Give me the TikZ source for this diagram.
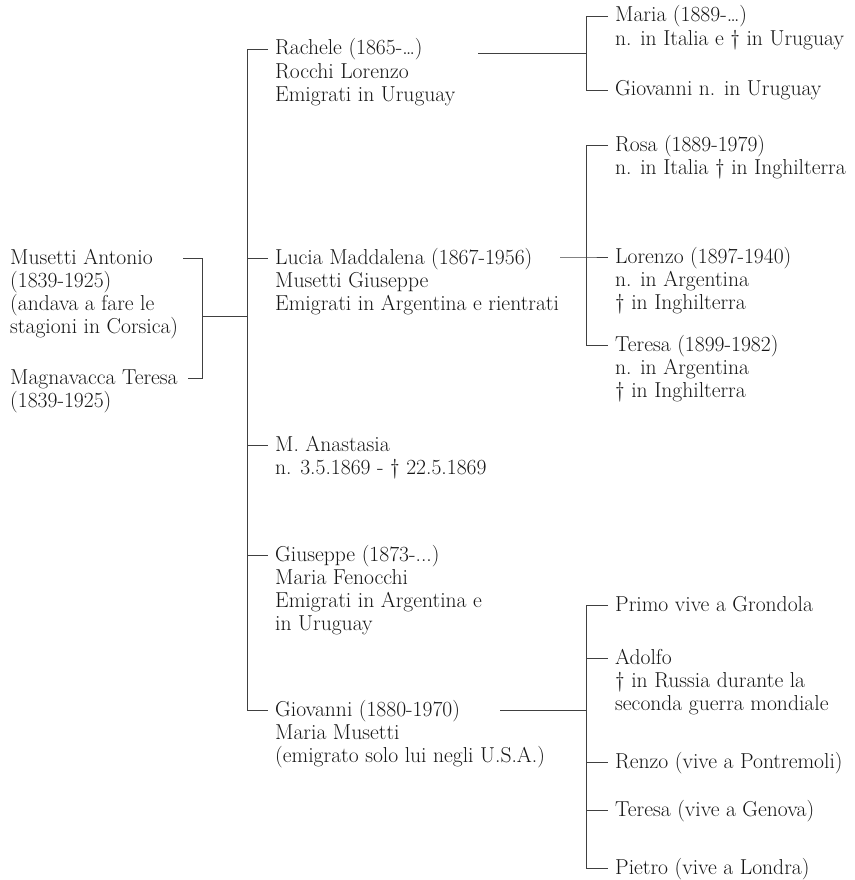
\documentclass[tikz,border=0pt]{standalone}
\definecolor{ink}{HTML}{161616}
\definecolor{rule}{HTML}{404040}
\newcommand\famlines[1]{\begin{tabular}[t]{@{}l@{}}#1\end{tabular}}
\begin{document}
\begin{tikzpicture}[x=1pt,y=-1pt,
  txt/.style={anchor=base west,inner sep=0pt,text=ink,
    font=\fontsize{21.6}{23.2}\selectfont},
  ln/.style={draw=rule,line width=0.8pt}]
\useasboundingbox (0,0) rectangle (854,880);
% ---- text nodes
\node[txt] (antonio) at (10,264) {\famlines{Musetti Antonio\\(1839-1925)\\(andava a fare le\\stagioni in Corsica)}};
\node[txt] (teresaM) at (10,384) {\famlines{Magnavacca Teresa\\(1839-1925)}};
\node[txt] (rachele) at (275,55) {\famlines{Rachele (1865-\textellipsis)\\Rocchi Lorenzo\\Emigrati in Uruguay}};
\node[txt] (lucia) at (275,264) {\famlines{Lucia Maddalena (1867-1956)\\Musetti Giuseppe\\Emigrati in Argentina e rientrati}};
\node[txt] (anastasia) at (275,451) {\famlines{M. Anastasia\\n. 3.5.1869 - \textdagger{} 22.5.1869}};
\node[txt] (giuseppe) at (275,561) {\famlines{Giuseppe (1873-...)\\Maria Fenocchi\\Emigrati in Argentina e\\in Uruguay}};
\node[txt] (giovanni) at (275,716) {\famlines{Giovanni (1880-1970)\\Maria Musetti\\(emigrato solo lui negli U.S.A.)}};
\node[txt] (maria) at (615,22) {\famlines{Maria (1889-\textellipsis)\\n. in Italia e \textdagger{} in Uruguay}};
\node[txt] (giovR) at (615,96) {Giovanni n. in Uruguay};
\node[txt] (rosa) at (615,151) {\famlines{Rosa (1889-1979)\\n. in Italia \textdagger{} in Inghilterra}};
\node[txt] (lorenzo) at (615,263) {\famlines{Lorenzo (1897-1940)\\n. in Argentina\\\textdagger{} in Inghilterra}};
\node[txt] (teresaL) at (615,351) {\famlines{Teresa (1899-1982)\\n. in Argentina\\\textdagger{} in Inghilterra}};
\node[txt] (primo) at (615,611) {Primo vive a Grondola};
\node[txt] (adolfo) at (615,664) {\famlines{Adolfo\\\textdagger{} in Russia durante la\\seconda guerra mondiale}};
\node[txt] (renzo) at (615,768) {Renzo (vive a Pontremoli)};
\node[txt] (teresaG) at (615,816) {Teresa (vive a Genova)};
\node[txt] (pietro) at (615,874) {Pietro (vive a Londra)};
% ---- junction coordinates
\coordinate (rootA) at (183,258);
\coordinate (rootB) at (188,378);
\coordinate (rootJ) at (202,316);
\coordinate (trunkJ) at (247,316);
\coordinate (kRach) at (268,49);
\coordinate (kLuc) at (268,258);
\coordinate (kAna) at (268,445);
\coordinate (kGiu) at (268,555);
\coordinate (kGio) at (268,710);
\coordinate (cRach) at (478,53);
\coordinate (jRach) at (586,53);
\coordinate (kMar) at (608,16);
\coordinate (kGioR) at (608,90);
\coordinate (cLuc) at (560,257);
\coordinate (jLuc) at (586,257);
\coordinate (kRos) at (608,145);
\coordinate (kLor) at (608,257);
\coordinate (kTer) at (608,345);
\coordinate (cGio) at (500,710);
\coordinate (jGio) at (586,710);
\coordinate (kPri) at (608,605);
\coordinate (kAdo) at (608,658);
\coordinate (kRen) at (608,762);
\coordinate (kTeG) at (608,810);
\coordinate (kPie) at (608,868);
% ---- connectors
\draw[ln] (rootA) -| (rootJ |- rootB) -- (rootB);
\draw[ln] (rootJ) -- (trunkJ);
\draw[ln] (kRach) -| (trunkJ |- kGio) -- (kGio);
\draw[ln] (trunkJ |- kLuc) -- (kLuc);
\draw[ln] (trunkJ |- kAna) -- (kAna);
\draw[ln] (trunkJ |- kGiu) -- (kGiu);
\draw[ln] (cRach) -- (jRach);
\draw[ln] (kMar) -| (jRach |- kGioR) -- (kGioR);
\draw[ln] (cLuc) -- (jLuc) -- (kLor);
\draw[ln] (kRos) -| (jLuc |- kTer) -- (kTer);
\draw[ln] (cGio) -- (jGio);
\draw[ln] (kPri) -| (jGio |- kPie) -- (kPie);
\draw[ln] (jGio |- kAdo) -- (kAdo);
\draw[ln] (jGio |- kRen) -- (kRen);
\draw[ln] (jGio |- kTeG) -- (kTeG);
\end{tikzpicture}
\end{document}
